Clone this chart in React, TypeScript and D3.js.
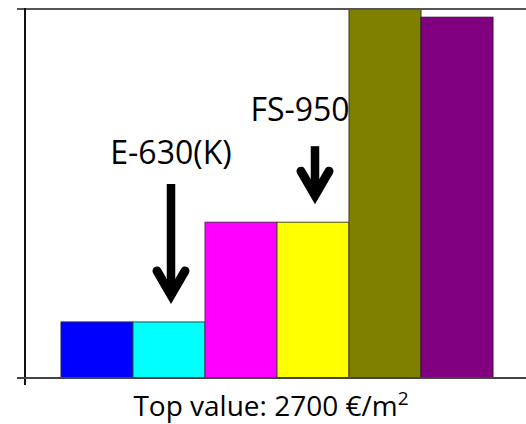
import React from "react";
import * as d3 from "d3";

// Cost per square metre for six products
const categories = ["P1", "P2", "P3", "P4", "P5", "P6"];
const values = [410, 410, 1140, 1140, 2700, 2640];
const fills = ["#0000FF", "#00FFFF", "#FF00FF", "#FFFF00", "#808000", "#800080"];
const strokes = ["#1a1a66", "#1f4f4f", "#6a1a6a", "#4a4a1a", "#3a3a10", "#3a103a"];
const topValue = 2700;

// Arrow annotations pointing at individual bars
const notes = [
  { category: "P2", label: "E-630(K)", shaft: 116, textDx: 0, textGap: 20 },
  { category: "P4", label: "FS-950", shaft: 54, textDx: -15, textGap: 25 },
];

const W = 526;
const H = 424;
const plot = { left: 25, top: 9, bottom: 378, right: W };
const barsFrom = 61;
const barsTo = 493;

export default function App() {
  const x = d3.scaleBand<string>().domain(categories).range([barsFrom, barsTo]).padding(0);
  const y = d3.scaleLinear().domain([0, topValue]).range([plot.bottom, plot.top]);
  const font = "'Open Sans', 'Liberation Sans', sans-serif";

  return (
    <svg
      width={W}
      height={H}
      viewBox={`0 0 ${W} ${H}`}
      style={{ position: "absolute", left: 0, top: 0, display: "block", background: "#fff" }}
    >
      {categories.map((c, i) => (
        <rect
          key={c}
          x={x(c)!}
          y={y(Math.min(values[i], topValue))}
          width={x.bandwidth()}
          height={plot.bottom - y(Math.min(values[i], topValue))}
          fill={fills[i]}
          stroke={strokes[i]}
          strokeWidth={1}
        />
      ))}

      {/* frame: top border, value axis, category axis */}
      <line x1={17} x2={W} y1={plot.top} y2={plot.top} stroke="#555" strokeWidth={2} />
      <line x1={plot.left} x2={plot.left} y1={plot.top - 1} y2={plot.bottom + 7} stroke="#111" strokeWidth={2} />
      <line x1={17} x2={W} y1={plot.bottom} y2={plot.bottom} stroke="#444" strokeWidth={2} />

      {notes.map((n) => {
        const i = categories.indexOf(n.category);
        const cx = x(n.category)! + x.bandwidth() / 2 + 2;
        const tip = y(values[i]) - 22;
        const top = tip - n.shaft;
        return (
          <g key={n.label}>
            <line x1={cx} x2={cx} y1={top} y2={tip - 4} stroke="#000" strokeWidth={8.5} />
            <path
              d={`M${cx - 14},${tip - 29} L${cx},${tip - 5} L${cx + 14},${tip - 29}`}
              fill="none"
              stroke="#000"
              strokeWidth={9}
              strokeLinecap="round"
              strokeLinejoin="miter"
            />
            <text
              x={cx + n.textDx}
              y={top - n.textGap}
              textAnchor="middle"
              fontFamily={font}
              fontSize={32}
              fill="#000"
            >
              {n.label}
            </text>
          </g>
        );
      })}

      <text x={271} y={416} textAnchor="middle" fontFamily={font} fontSize={28} fill="#000">
        Top value: {topValue} €/m
        <tspan dy={-11} fontSize={19}>2</tspan>
      </text>
    </svg>
  );
}
